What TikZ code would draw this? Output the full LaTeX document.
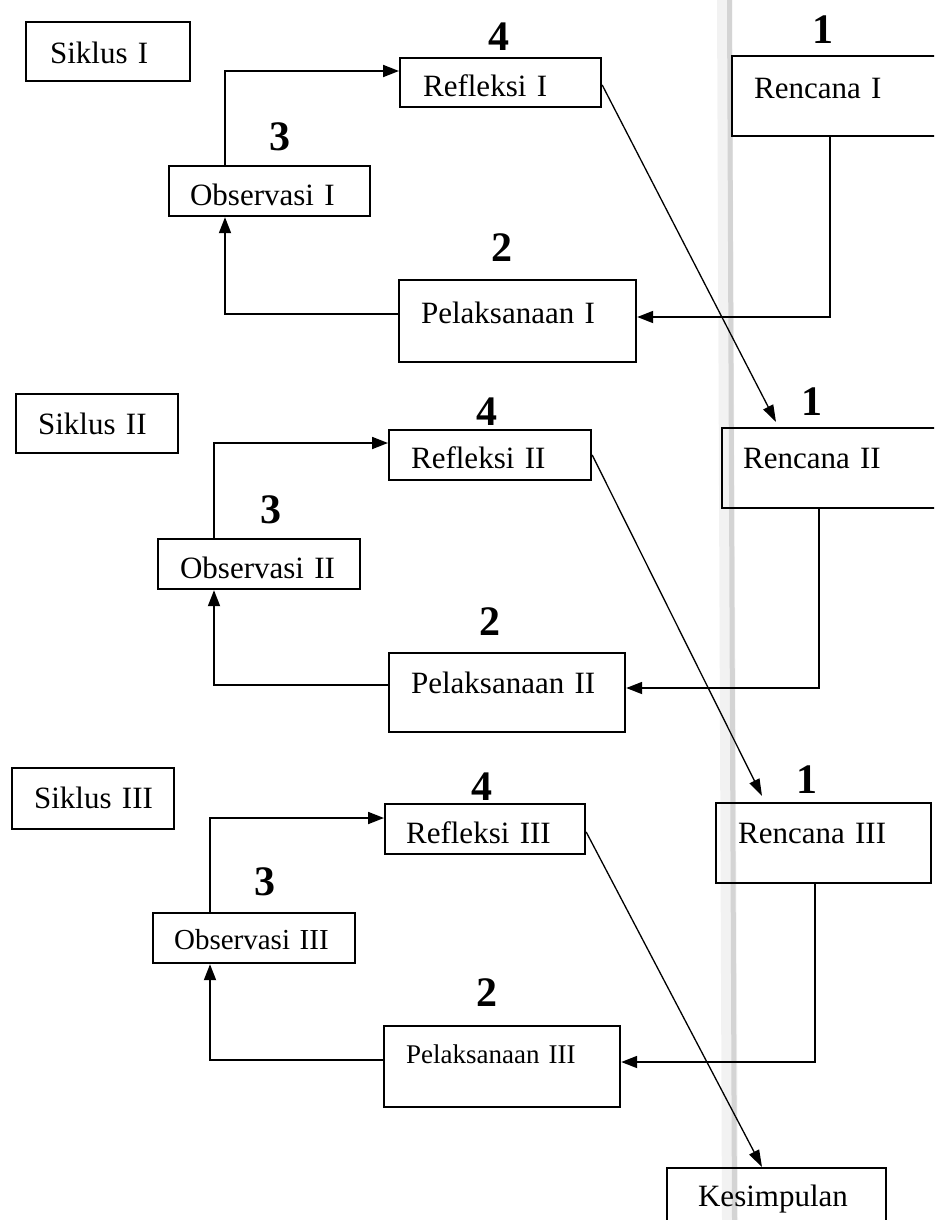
\documentclass[tikz,border=0pt]{standalone}
\usepackage{fontspec}
\setmainfont{Liberation Serif}
\usetikzlibrary{arrows.meta}
\tikzset{
  bx/.style={draw, line width=2.2pt, anchor=north west, inner ysep=0pt, align=left,
    font=\fontsize{31}{31}\selectfont},
  num/.style={font=\bfseries\fontsize{42}{42}\selectfont, inner sep=0pt},
  arr/.style={line width=1.8pt, -{Triangle[length=16pt,width=12pt]}},
  diag/.style={line width=1.3pt, -{Triangle[length=17pt,width=11pt]}},
}
\begin{document}
\begin{tikzpicture}[x=1pt,y=-1pt]
\useasboundingbox (0,0) rectangle (934,1220);
\clip (0,0) rectangle (934,1220);
% scanner band
\fill[black!5] (717,0) -- (732,0) -- (738,1220) -- (722,1220) -- cycle;
\fill[black!17] (727,0) -- (732,0) -- (737,1220) -- (732,1220) -- cycle;

% ---------- Siklus I ----------
\node[bx, inner xsep=24pt, text width=116pt, text height=41pt, text depth=18pt] (S1) at (25,21) {\mbox{Siklus I}};
\node[bx, inner xsep=23pt, text width=155pt, text height=38pt, text depth=11pt] (R1) at (399,57) {\mbox{Refleksi I}};
\node[bx, inner xsep=22pt, text width=175pt, text height=42pt, text depth=38pt] (N1) at (731,55) {\mbox{Rencana I}};
\node[bx, inner xsep=21pt, text width=159pt, text height=39pt, text depth=11pt] (O1) at (168,165) {\mbox{Observasi I}};
\node[bx, inner xsep=22pt, text width=193pt, text height=43pt, text depth=39pt] (P1) at (398,279) {\mbox{Pelaksanaan I}};
\node[num] (n4a) at (499,37) {4};
\node[num] (n1a) at (823,30) {1};
\node[num] (n3a) at (280,137) {3};
\node[num] (n2a) at (502,248) {2};
\draw[arr] (O1.north -| 225,0) |- (R1.west |- 0,71);
\draw[arr] (P1.west |- 0,314) -| (O1.south -| 225,0);
\draw[arr] (N1.south -| 830,0) |- (P1.east |- 0,317);
\coordinate (t1) at (776,422);
\draw[diag] (R1.east |- 0,85) -- (t1);

% ---------- Siklus II ----------
\node[bx, inner xsep=22pt, text width=118pt, text height=40pt, text depth=19pt] (S2) at (15,393) {\mbox{Siklus II}};
\node[bx, inner xsep=22pt, text width=158pt, text height=38pt, text depth=12pt] (R2) at (388,429) {\mbox{Refleksi II}};
\node[bx, inner xsep=21pt, text width=182pt, text height=40pt, text depth=40pt] (N2) at (721,427) {\mbox{Rencana II}};
\node[bx, inner xsep=22pt, text width=158pt, text height=39pt, text depth=11pt] (O2) at (157,538) {\mbox{Observasi II}};
\node[bx, inner xsep=22pt, text width=192pt, text height=40pt, text depth=39pt] (P2) at (388,652) {\mbox{Pelaksanaan II}};
\node[num] (n4b) at (487,412) {4};
\node[num] (n1b) at (812,402) {1};
\node[num] (n3b) at (271,510) {3};
\node[num] (n2b) at (490,622) {2};
\draw[arr] (O2.north -| 214,0) |- (R2.west |- 0,443);
\draw[arr] (P2.west |- 0,685) -| (O2.south -| 214,0);
\draw[arr] (N2.south -| 819,0) |- (P2.east |- 0,688);
\coordinate (t2) at (762,796);
\draw[diag] (R2.east |- 0,455) -- (t2);

% ---------- Siklus III ----------
\node[bx, inner xsep=22pt, text width=118pt, text height=40pt, text depth=21pt] (S3) at (11,767) {\mbox{Siklus III}};
\node[bx, inner xsep=21pt, text width=158pt, text height=39pt, text depth=11pt] (R3) at (384,803) {\mbox{Refleksi III}};
\node[bx, inner xsep=22pt, text width=171pt, text height=40pt, text depth=40pt] (N3) at (715,802) {\mbox{Rencana III}};
\node[bx, inner xsep=21pt, text width=160pt, text height=36pt, text depth=14pt, font=\fontsize{29}{29}\selectfont] (O3) at (152,912) {\mbox{Observasi III}};
\node[bx, inner xsep=22pt, text width=192pt, text height=37pt, text depth=44pt, font=\fontsize{27}{27}\selectfont] (P3) at (383,1025) {\mbox{Pelaksanaan III}};
\node[num] (n4c) at (482,787) {4};
\node[num] (n1c) at (807,780) {1};
\node[num] (n3c) at (265,882) {3};
\node[num] (n2c) at (487,993) {2};
\draw[arr] (O3.north -| 210,0) |- (R3.west |- 0,818);
\draw[arr] (P3.west |- 0,1060) -| (O3.south -| 210,0);
\draw[arr] (N3.south -| 815,0) |- (P3.east |- 0,1062);

% ---------- Kesimpulan ----------
\node[bx, inner xsep=31pt, text width=157pt, text height=38pt, text depth=42pt] (K) at (666,1167) {\mbox{Kesimpulan}};
\draw[diag] (R3.east |- 0,832) -- (K.north -| 762,0);
\end{tikzpicture}
\end{document}
